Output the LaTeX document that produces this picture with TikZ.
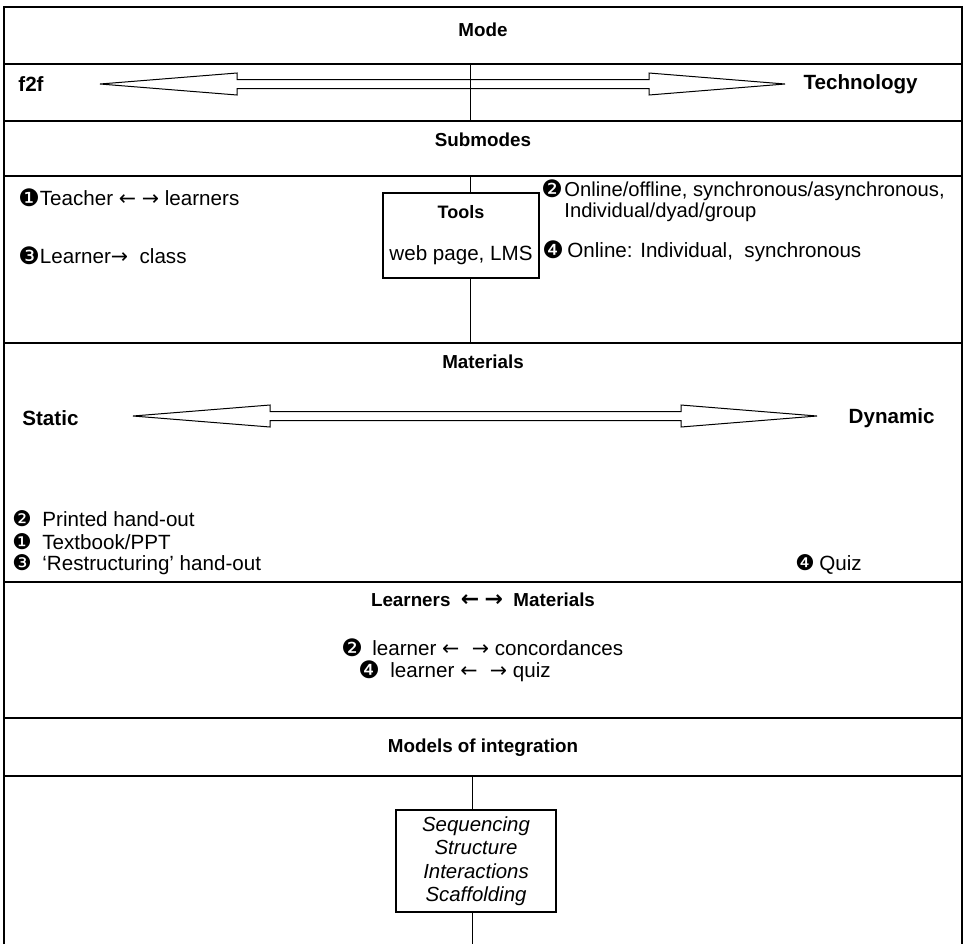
\documentclass[tikz,border=0pt]{standalone}
\usepackage{fontspec}
\setmainfont{Liberation Sans}
\newfontfamily\dingfont{DejaVu Sans}
% hollow double-headed arrow: left tip, left head end, right head end, right tip, centre y
\newcommand\dblarrow[5]{%
  \draw[hollow] (#1,#5) -- (#2,#5-11) -- (#2,#5-4.5) -- (#3,#5-4.5) -- (#3,#5-11) -- (#4,#5)
    -- (#3,#5+11) -- (#3,#5+4.5) -- (#2,#5+4.5) -- (#2,#5+11) -- cycle;}
% circled numbers: large ones for the mode lists, smaller ones for the materials list
\newcommand\dingnum[1]{{\dingfont\fontsize{12}{12}\selectfont\smash{\raisebox{-0.5pt}{#1}}}}
\newcommand\dingsmall[1]{{\dingfont\fontsize{10.8}{12}\selectfont\smash{#1}}}
\newcommand\la{{\dingfont ←}}
\newcommand\ra{{\dingfont →}}
\newcommand\bla{{\dingfont\bfseries\fontsize{11}{11}\selectfont ←}}
\newcommand\bra{{\dingfont\bfseries\fontsize{11}{11}\selectfont →}}
\begin{document}
\begin{tikzpicture}[x=0.5pt,y=-0.5pt,
  frame/.style={line width=0.7pt},
  axis/.style={line width=0.5pt},
  hollow/.style={draw, line width=0.5pt},
  heading/.style={font=\fontsize{9.4}{11}\selectfont\bfseries, inner sep=0},
  pole/.style={font=\fontsize{10.3}{12}\selectfont\bfseries, inner sep=0},
  txt/.style={font=\fontsize{10.3}{12}\selectfont, inner sep=0, anchor=west},
  infobox/.style={draw, line width=0.6pt, fill=white, align=center, inner sep=0}
]
\useasboundingbox (0,0) rectangle (964,944);

% outer frame, open at the bottom
\draw[frame] (4,944) -- (4,7) -- (962,7) -- (962,944);
% row separators
\foreach \yy in {64,121,176,343,582,718,776}
  \draw[frame] (4,\yy) -- (962,\yy);

% --- Mode ---
\node[heading] (mode) at (483,30) {Mode};
\node[pole, anchor=west] (f2f) at (18,84) {f2f};
\node[pole, anchor=east] (tech) at (918,84) {Technology};
\dblarrow{100}{237}{649}{785}{84}
\coordinate (m1) at (470,64);
\coordinate (m2) at (470,121);
\draw[axis] (m1) -- (m2);

% --- Submodes ---
\node[heading] (submodes) at (483,140) {Submodes};
\node[txt] (s1) at (18,198) {\dingnum{❶}Teacher \la\ \ra\ learners};
\node[txt] (s3) at (18,256) {\dingnum{❸}Learner\ra\ \ class};
\node[txt, align=left, font=\fontsize{10.1}{10.5}\selectfont] (s2) at (541,201.5)
  {\makebox[11.5pt][l]{\dingnum{❷}}Online/offline, synchronous/asynchronous,\\
   \hspace*{11.5pt}Individual/dyad/group};
\node[txt] (s4) at (542,252) {\makebox[12.5pt][l]{\dingnum{❹}}Online: Individual,\ \ synchronous};
\node[infobox, minimum width=78pt, minimum height=42.5pt, font=\fontsize{10.3}{12}\selectfont]
  (tools) at (461,235.5) {{\fontsize{9}{11}\selectfont\bfseries Tools}\\[9pt]web page, LMS};
\coordinate (t1) at (470,176);
\coordinate (t2) at (470,343);
\draw[axis] (t1) -- (t1 |- tools.north);
\draw[axis] (tools.south -| t2) -- (t2);

% --- Materials ---
\node[heading] (materials) at (483,362) {Materials};
\node[pole, anchor=west] (static) at (22,418) {Static};
\node[pole, anchor=east] (dynamic) at (935,418) {Dynamic};
\dblarrow{133}{270}{681}{817}{416}
\node[txt] (p2) at (12,519) {\makebox[15pt][l]{\dingsmall{❷}}Printed hand-out};
\node[txt] (p1) at (12,542) {\makebox[15pt][l]{\dingsmall{❶}}Textbook/PPT};
\node[txt] (p3) at (12,565) {\makebox[15pt][l]{\dingsmall{❸}}‘Restructuring’ hand-out};
\node[txt] (p4) at (795,565) {\makebox[12pt][l]{\dingsmall{❹}}Quiz};

% --- Learners <-> Materials ---
\node[heading] (lm) at (483,600) {Learners\ \ \bla\ \bra\ \ Materials};
\node[txt] (l2) at (341,648) {\makebox[15.5pt][l]{\dingnum{❷}}learner \la\hspace{0.6em}\ra\ concordances};
\node[txt] (l4) at (358,672) {\makebox[16pt][l]{\dingnum{❹}}learner \la\hspace{0.6em}\ra\ quiz};

% --- Models of integration ---
\node[heading] (models) at (483,748) {Models of integration};
\node[infobox, minimum width=80pt, minimum height=51pt,
  font=\fontsize{10.2}{11.75}\selectfont\itshape]
  (seq) at (476,861) {Sequencing\\Structure\\Interactions\\Scaffolding};
\coordinate (q1) at (472,776);
\coordinate (q2) at (472,944);
\draw[axis] (q1) -- (q1 |- seq.north);
\draw[axis] (seq.south -| q2) -- (q2);
\end{tikzpicture}
\end{document}
